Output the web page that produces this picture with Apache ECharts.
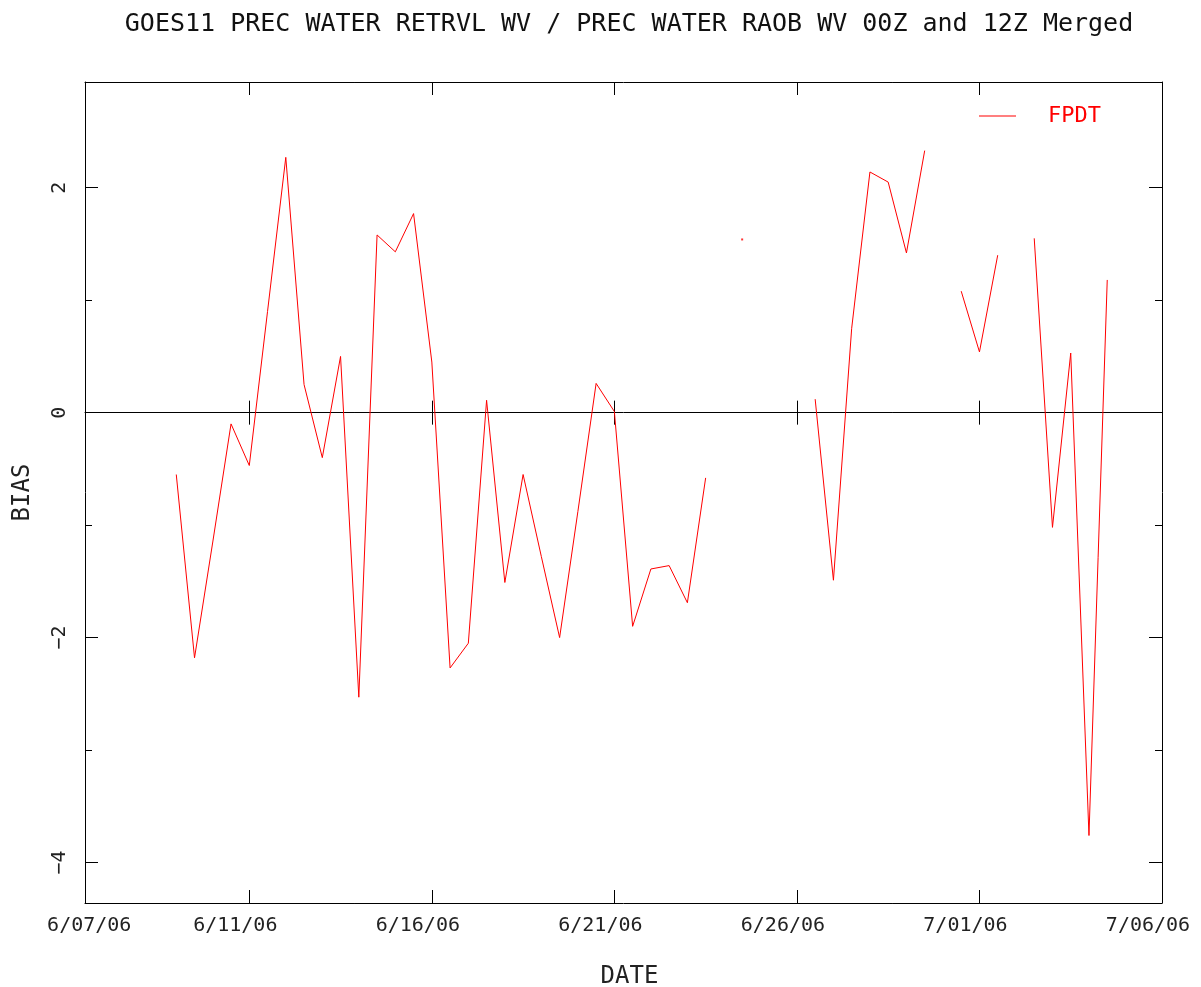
<!DOCTYPE html>
<html><head><meta charset="utf-8">
<script src="https://cdn.jsdelivr.net/npm/echarts@6/dist/echarts.min.js"></script>
<style>html,body{margin:0;padding:0;background:#fff}#c{width:1201px;height:987px}</style>
</head><body><div id="c"></div>
<script>
const titleText = 'GOES11 PREC WATER RETRVL WV / PREC WATER RAOB WV 00Z and 12Z Merged';
const seriesName = 'FPDT';
// time in days: June d -> d, July d -> 30 + d (00Z = .0, 12Z = .5)
const times = [9,9.5,10,10.5,11,11.5,12,12.5,13,13.5,14,14.5,15,15.5,16,16.5,17,17.5,18,18.5,19,19.5,20,20.5,21,21.5,22,22.5,23,23.5,24,24.5,25,25.5,26,26.5,27,27.5,28,28.5,29,29.5,30,30.5,31,31.5,32,32.5,33,33.5,34,34.5];
const bias = [-0.55,-2.18,-1.15,-0.10,-0.47,0.90,2.27,0.25,-0.40,0.50,-2.53,1.58,1.43,1.77,0.45,-2.27,-2.05,0.11,-1.51,-0.55,-1.28,-2.00,-0.88,0.26,0.01,-1.90,-1.39,-1.36,-1.69,-0.58,null,1.54,null,null,null,0.12,-1.49,0.75,2.14,2.05,1.42,2.33,null,1.08,0.54,1.40,null,1.55,-1.02,0.53,-3.76,1.18];
const dateTickValues = [11,16,21,26,31,36];
const dateLabelValues = [7,11,16,21,26,31,36];
const dateLabels = ['6/07/06','6/11/06','6/16/06','6/21/06','6/26/06','7/01/06','7/06/06'];
const biasMajorTicks = [-4,-2,0,2];
const biasMinorTicks = [-3,-1,1];
const xRange = [6.5, 36];
const yRange = [-4.36, 2.94];

const MONO = 'DejaVu Sans Mono';
const RED = '#ff0000';
const BLACK = '#000';

const lineData = times.map((t, i) => [t, bias[i]]);
// points with no neighbours are drawn as single dots
const isolatedData = times
  .map((t, i) => [t, bias[i], i])
  .filter(([t, v, i]) => v !== null && (i === 0 || bias[i-1] === null) && (i === bias.length - 1 || bias[i+1] === null))
  .map(([t, v]) => [t, v]);

function xAxisBase(extra) {
  return Object.assign({
    type: 'value', min: xRange[0], max: xRange[1],
    splitLine: { show: false },
    axisLabel: { show: false },
    axisLine: { show: true, onZero: false, lineStyle: { color: BLACK, width: 1 } },
    axisTick: { show: true, inside: true, length: 13, customValues: dateTickValues, lineStyle: { color: BLACK, width: 1 } }
  }, extra);
}
function yAxisBase(extra) {
  return Object.assign({
    type: 'value', min: yRange[0], max: yRange[1],
    splitLine: { show: false },
    axisLabel: { show: false },
    axisLine: { show: true, onZero: false, lineStyle: { color: BLACK, width: 1 } },
    axisTick: { show: true, inside: true, length: 13, customValues: biasMajorTicks, lineStyle: { color: BLACK, width: 1 } }
  }, extra);
}

const chart = echarts.init(document.getElementById('c'), null, { renderer: 'canvas' });
chart.setOption({
  animation: false,
  backgroundColor: '#fff',
  title: {
    text: titleText, left: 624, top: 7, textAlign: 'center',
    textStyle: { fontFamily: MONO, fontSize: 25, fontWeight: 'normal', color: '#111' }
  },
  legend: {
    data: [{ name: seriesName, icon: 'rect' }], left: 979, top: 105, padding: 0,
    itemWidth: 37, itemHeight: 1,
    itemStyle: { color: RED, borderWidth: 0 },
    textStyle: { color: RED, fontFamily: MONO, fontSize: 22, padding: [0, 0, 0, 27] }
  },
  grid: { left: 85, right: 39, top: 82, bottom: 84, containLabel: false, outerBoundsMode: 'none' },
  xAxis: [
    xAxisBase({
      position: 'bottom',
      axisLabel: {
        show: true, customValues: dateLabelValues, margin: 13,
        padding: [0, 28, 0, 0],
        formatter: v => dateLabels[dateLabelValues.indexOf(v)],
        fontFamily: MONO, fontSize: 20, color: '#222'
      },
      name: 'DATE', nameLocation: 'middle', nameGap: 62,
      nameTextStyle: { fontFamily: MONO, fontSize: 24, color: '#222', padding: [0, 0, 0, 12] }
    }),
    xAxisBase({ position: 'top' }),
    xAxisBase({
      position: 'bottom',
      axisLine: { show: true, onZero: true, lineStyle: { color: BLACK, width: 1 } },
      axisTick: { show: true, inside: false, length: 12, customValues: dateTickValues, lineStyle: { color: BLACK, width: 1 } }
    }),
    xAxisBase({
      position: 'top',
      axisLine: { show: false, onZero: true },
      axisTick: { show: true, inside: false, length: 12, customValues: dateTickValues, lineStyle: { color: BLACK, width: 1 } }
    })
  ],
  yAxis: [
    yAxisBase({
      position: 'left',
      axisLabel: {
        show: true, customValues: biasMajorTicks, rotate: 90, margin: 15,
        formatter: v => (v < 0 ? '\u2212' + Math.abs(v) : String(v)),
        fontFamily: MONO, fontSize: 20, color: '#222'
      },
      name: 'BIAS', nameLocation: 'middle', nameGap: 50, nameRotate: 90,
      nameTextStyle: { fontFamily: MONO, fontSize: 24, color: '#222' }
    }),
    yAxisBase({
      position: 'left',
      axisLine: { show: false, onZero: false },
      axisTick: { show: true, inside: true, length: 7, customValues: biasMinorTicks, lineStyle: { color: BLACK, width: 1 } }
    }),
    yAxisBase({ position: 'right' }),
    yAxisBase({
      position: 'right',
      axisLine: { show: false, onZero: false },
      axisTick: { show: true, inside: true, length: 7, customValues: biasMinorTicks, lineStyle: { color: BLACK, width: 1 } }
    })
  ],
  series: [{
    name: seriesName, type: 'line', xAxisIndex: 0, yAxisIndex: 0,
    data: lineData, connectNulls: false,
    symbol: 'none', showSymbol: false,
    lineStyle: { color: RED, width: 1 },
    itemStyle: { color: RED },
    emphasis: { disabled: true }
  }, {
    name: seriesName + ' point', type: 'scatter', xAxisIndex: 0, yAxisIndex: 0,
    data: isolatedData, symbol: 'rect', symbolSize: 2,
    itemStyle: { color: RED },
    emphasis: { disabled: true }
  }]
});
</script>
</body></html>
